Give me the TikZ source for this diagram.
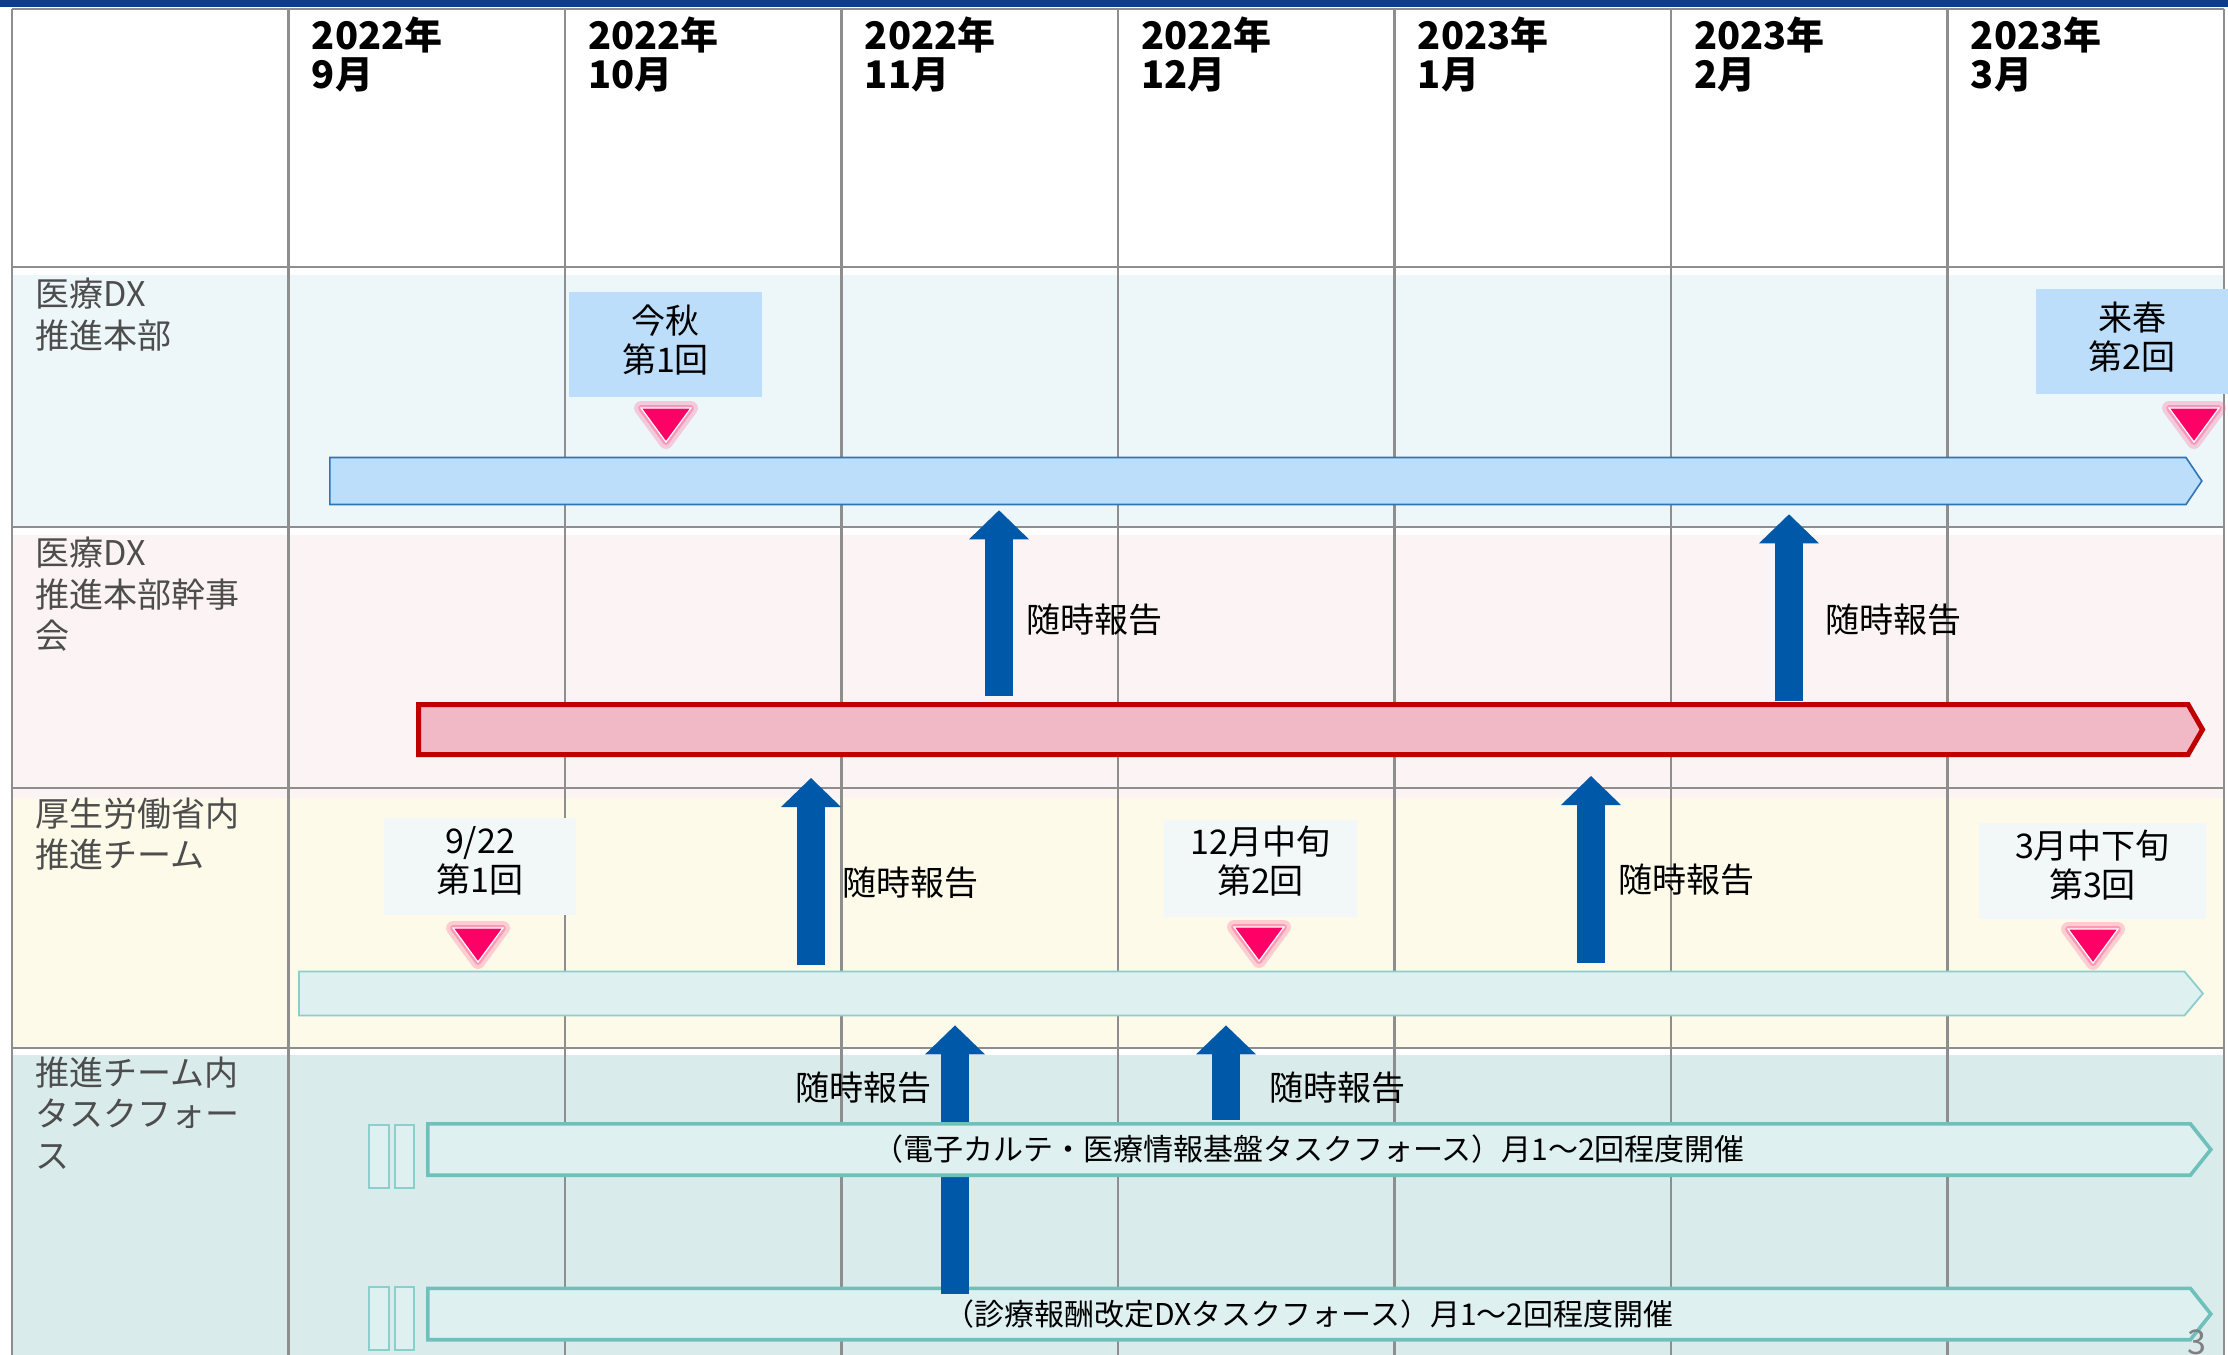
\documentclass[tikz,border=0pt]{standalone}
\usepackage{fontspec}
\setmainfont{Noto Sans CJK JP}
\usetikzlibrary{arrows.meta,shapes.symbols}

\definecolor{bandblue}{HTML}{0B3C8E}
\definecolor{gridgray}{HTML}{8E8E8E}
\definecolor{hqbg}{HTML}{EDF6F8}
\definecolor{kanjibg}{HTML}{FCF3F4}
\definecolor{teambg}{HTML}{FDFAEA}
\definecolor{tfbg}{HTML}{D9ECEB}
\definecolor{hqfill}{HTML}{BDDEFB}
\definecolor{hqline}{HTML}{2E75B6}
\definecolor{kanjifill}{HTML}{F0B9C5}
\definecolor{kanjiline}{HTML}{C00000}
\definecolor{teamfill}{HTML}{DEF0F0}
\definecolor{teamline}{HTML}{8ACFCB}
\definecolor{tfline}{HTML}{6EC0BB}
\definecolor{datefill}{HTML}{F2F8F8}
\definecolor{reportblue}{HTML}{0058A9}
\definecolor{markpink}{HTML}{FF0066}
\definecolor{markglow}{HTML}{FF6699}
\definecolor{labelgray}{HTML}{4D4D4D}

\tikzset{
  gridline/.style={draw=gridgray,line width=1.4pt},
  monthhead/.style={anchor=north west,inner sep=0pt,align=left,font=\bfseries\fontsize{19}{19.5}\selectfont},
  rowlabel/.style={anchor=north west,inner sep=0pt,align=left,text=labelgray,font=\fontsize{17}{20.75}\selectfont},
  datebox/.style={inner sep=0pt},
  datetext/.style={inner sep=0pt,align=center,font=\fontsize{17}{19.5}\selectfont},
  bar/.style={shape=signal,signal to=east,anchor=west,inner sep=0pt},
  tfbar/.style={bar,fill=teamfill,draw=tfline,line width=1.8pt,minimum width=891.5pt,minimum height=25.7pt,
    signal pointer angle=103,font=\fontsize{15}{18}\selectfont},
  report/.style={draw=reportblue,line width=14pt,-{Triangle[width=30pt,length=14.5pt,line width=0pt]}},
  note/.style={anchor=west,inner sep=0pt,font=\fontsize{17}{20}\selectfont},
  breakbox/.style={fill=teamfill,draw=teamline,line width=0.8pt},
  meeting/.pic={
    \path[fill=markglow,draw=markglow,opacity=.3,line width=7pt,line join=round] (-25,-17) -- (25,-17) -- (0,17) -- cycle;
    \path[draw=markglow,opacity=.5,line width=3pt,line join=round] (-25,-17) -- (25,-17) -- (0,17) -- cycle;
    \filldraw[fill=markpink,draw=white,line width=0.6pt] (-25,-17) -- (25,-17) -- (0,17) -- cycle;
  },
}

\begin{document}
\begin{tikzpicture}[x=0.5pt,y=-0.5pt]
\useasboundingbox (0,0) rectangle (2228,1355);
% band and row colours
\fill[bandblue] (0,0) rectangle (2228,7);
\fill[hqbg] (12,275) rectangle (2224,527);
\fill[kanjibg] (12,535) rectangle (2224,798);
\fill[teambg] (12,798) rectangle (2224,1048);
\fill[tfbg] (12,1055) rectangle (2224,1355);
% grid
\foreach \i in {0,...,8} \draw[gridline] ({12+276.5*\i},9) -- ({12+276.5*\i},1355);
\foreach \y in {9,267,527,788,1048} \draw[gridline] (12,\y) -- (2224,\y);
% months
\foreach \i/\yr/\mo in {1/2022/9,2/2022/10,3/2022/11,4/2022/12,5/2023/1,6/2023/2,7/2023/3}
  \node[monthhead] (m\i) at ({12+276.5*\i+23},16) {\yr 年\\\mo 月};
% rows
\node[rowlabel] (hq) at (35,278) {医療DX\\推進本部};
\node[rowlabel] (kanji) at (35,537) {医療DX\\推進本部幹事\\会};
\node[rowlabel] (team) at (35,797) {厚生労働省内\\推進チーム};
\node[rowlabel] (tf) at (35,1056) {推進チーム内\\タスクフォー\\ス};

% bars
\node[bar,fill=hqfill,draw=hqline,line width=0.8pt,minimum width=936pt,minimum height=23.5pt,signal pointer angle=112] (hqbar) at (329,481) {};
\node[bar,fill=kanjifill,draw=kanjiline,line width=2.5pt,minimum width=892pt,minimum height=25pt,signal pointer angle=120] (kanjibar) at (416,729.5) {};
\node[bar,fill=teamfill,draw=teamline,line width=0.9pt,minimum width=952pt,minimum height=22pt,signal pointer angle=100] (teambar) at (298,993.5) {};
\node[tfbar] (tfbar2) at (426,1314) {（診療報酬改定DXタスクフォース）月1～2回程度開催};
\draw[breakbox] (369,1287) rectangle (389,1350) (395,1287) rectangle (414,1350);

% meetings
\node[datebox,fill=hqfill,minimum width=96.5pt,minimum height=52.5pt] (hq1) at (665.5,344.5) {};
\node[datetext] (hq1txt) at (665.5,340) {今秋\\第1回};
\node[datebox,fill=hqfill,minimum width=96pt,minimum height=52.5pt] (hq2) at (2132,341.5) {};
\node[datetext] (hq2txt) at (2132,337) {来春\\第2回};
\node[datebox,fill=datefill,minimum width=96pt,minimum height=48.5pt] (team1) at (480,866.5) {};
\node[datetext] (team1txt) at (480,861) {9/22\\第1回};
\node[datebox,fill=datefill,minimum width=96.5pt,minimum height=48.5pt] (team2) at (1260.5,868.5) {};
\node[datetext] (team2txt) at (1260.5,861) {12月中旬\\第2回};
\node[datebox,fill=datefill,minimum width=113.5pt,minimum height=48pt] (team3) at (2092.5,871) {};
\node[datetext] (team3txt) at (2092.5,865) {3月中下旬\\第3回};
\pic at (666,425) {meeting};
\pic at (2194,425) {meeting};
\pic at (478,945) {meeting};
\pic at (1259,944) {meeting};
\pic at (2093,946) {meeting};

% reports
\coordinate (r1) at (999,0);
\coordinate (r2) at (1789,0);
\coordinate (r3) at (811,0);
\coordinate (r4) at (1591,0);
\coordinate (r5) at (955,0);
\coordinate (r6) at (1226,0);
\draw[report,shorten <=3pt,shorten >=2.5pt] (kanjibar.north -| r1) -- (hqbar.south -| r1);
\draw[report,shorten <=0.5pt,shorten >=4.5pt] (kanjibar.north -| r2) -- (hqbar.south -| r2);
\draw[report,shorten <=3pt,shorten >=10.5pt] (teambar.north -| r3) -- (kanjibar.south -| r3);
\draw[report,shorten <=4pt,shorten >=9.5pt] (teambar.north -| r4) -- (kanjibar.south -| r4);
\draw[report,shorten <=-3.5pt,shorten >=4.5pt] (tfbar2.north -| r5) -- (teambar.south -| r5);
\node[tfbar] (tfbar1) at (426,1149.5) {（電子カルテ・医療情報基盤タスクフォース）月1～2回程度開催};
\draw[breakbox] (369,1125) rectangle (389,1188) (395,1125) rectangle (414,1188);
\draw[report,shorten <=1pt,shorten >=4.5pt] (tfbar1.north -| r6) -- (teambar.south -| r6);

\node[note] (n1) at (1026,620) {随時報告};
\node[note] (n2) at (1825,620) {随時報告};
\node[note] (n3) at (842,883) {随時報告};
\node[note] (n4) at (1618,880) {随時報告};
\node[note] (n5) at (795,1088) {随時報告};
\node[note] (n6) at (1269,1088) {随時報告};

\node[anchor=north,inner sep=0pt,text=gray,font=\fontsize{17}{20}\selectfont] (pg) at (2197,1329) {3};
\end{tikzpicture}
\end{document}
